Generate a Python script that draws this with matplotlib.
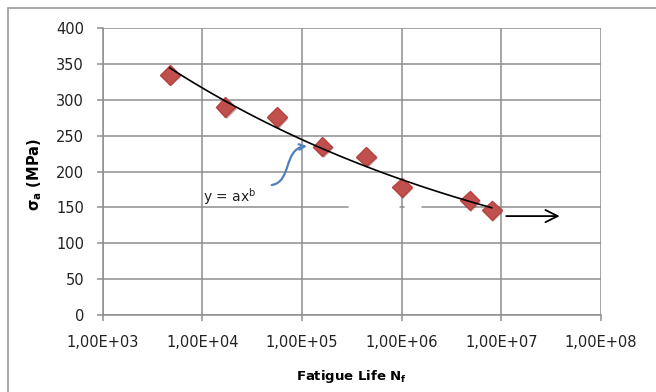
import numpy as np
import matplotlib
matplotlib.use("Agg")
import matplotlib.pyplot as plt
from matplotlib.path import Path
from matplotlib.patches import FancyArrowPatch, Rectangle
import matplotlib.patheffects as pe

plt.rcParams['font.family'] = ['DejaVu Sans']
plt.rcParams['mathtext.fontset'] = 'custom'
plt.rcParams['mathtext.rm'] = 'DejaVu Sans'
plt.rcParams['mathtext.bf'] = 'DejaVu Sans:bold'

# fatigue test results
cycles = [4.7e3, 1.7e4, 5.6e4, 1.6e5, 4.4e5, 1.0e6, 4.8e6, 8.0e6]
stress = [335, 290, 276, 235, 221, 178, 160, 146]

# run-out arrow after the last specimen
runout_x = [1.05e7, 4.1e7]
runout_y = 138

xticks = [1e3, 1e4, 1e5, 1e6, 1e7, 1e8]
xlabels = ['1,00E+03', '1,00E+04', '1,00E+05', '1,00E+06', '1,00E+07', '1,00E+08']
yticks = [0, 50, 100, 150, 200, 250, 300, 350, 400]

grid_col = '#8e8e8e'

fig = plt.figure(figsize=(6.56, 3.92), dpi=100)
ax = fig.add_axes([0.1566, 0.1964, 0.7596, 0.7314])

ax.set_xscale('log')
ax.set_xlim(1e3, 1e8)
ax.set_ylim(0, 400)
ax.set_xticks(xticks, xlabels)
ax.set_yticks(yticks)
ax.minorticks_off()
ax.grid(True, color=grid_col, lw=1.1)
ax.set_axisbelow(True)
for s in ['top', 'right']:
    ax.spines[s].set_visible(False)
for s in ['left', 'bottom']:
    ax.spines[s].set_color(grid_col)
    ax.spines[s].set_linewidth(1.1)
ax.tick_params(axis='both', colors=grid_col, length=4.5, width=1.1,
               labelcolor='#222222', labelsize=10.5)
ax.tick_params(axis='y', pad=9)
ax.tick_params(axis='x', pad=10)

# blank patch on the 150 gridline (either side of the 1e6 line)
for seg in ([2.9e5, 0.95e6], [1.05e6, 1.55e6]):
    ax.plot(seg, [150, 150], color='white', lw=2.2, zorder=1.5,
            solid_capstyle='butt')

# power-law trendline  y = a x^b  (least squares in log-log)
b, loga = np.polyfit(np.log(cycles), np.log(stress), 1)
xf = np.logspace(np.log10(min(cycles)), np.log10(max(cycles)), 100)
ax.plot(xf, np.exp(loga) * xf ** b, color='black', lw=1.2, zorder=4)

ax.plot(cycles, stress, linestyle='none', marker='D', ms=10,
        color='#c0504d', mec='#b8403c', zorder=3,
        path_effects=[pe.SimplePatchShadow(offset=(1.2, -1.2), alpha=0.35),
                      pe.Normal()])

ax.annotate('', xy=(runout_x[1], runout_y), xytext=(runout_x[0], runout_y),
            arrowprops=dict(arrowstyle='->', color='black', lw=1.3,
                            mutation_scale=22))

ax.text(1.02e4, 165, 'y = ax$^{\\mathregular{b}}$', fontsize=10, va='center',
        color='#222222')

# curved pointer from the equation to the fit line
pts = np.array([[271.7, 185], [292, 182], [283, 149], [307, 146]])
fx = (pts[:, 0] - 102.7) / 498.3
fy = (315 - pts[:, 1]) / 286.7
curve = Path(np.column_stack([fx, fy]),
             [Path.MOVETO, Path.CURVE4, Path.CURVE4, Path.CURVE4])
ax.add_patch(FancyArrowPatch(path=curve, transform=ax.transAxes,
                             arrowstyle='->', mutation_scale=10,
                             color='#4f81bd', lw=1.6, zorder=5))

ax.set_xlabel('Fatigue Life N$_\\mathbf{f}$', fontsize=9.5, fontweight='bold')
ax.set_ylabel('σ$_\\mathbf{a}$ (MPa)', fontsize=10.5, fontweight='bold')
ax.xaxis.set_label_coords(0.5, -0.185)
ax.yaxis.set_label_coords(-0.118, 0.49)

# chart frame
fig.patches.append(Rectangle((7.5 / 656, -0.1), 1.2, 1 - 8.3 / 392 + 0.1,
                             transform=fig.transFigure, fill=False,
                             edgecolor='#9a9a9a', lw=1.2))

fig.savefig('out.png', dpi=100)
